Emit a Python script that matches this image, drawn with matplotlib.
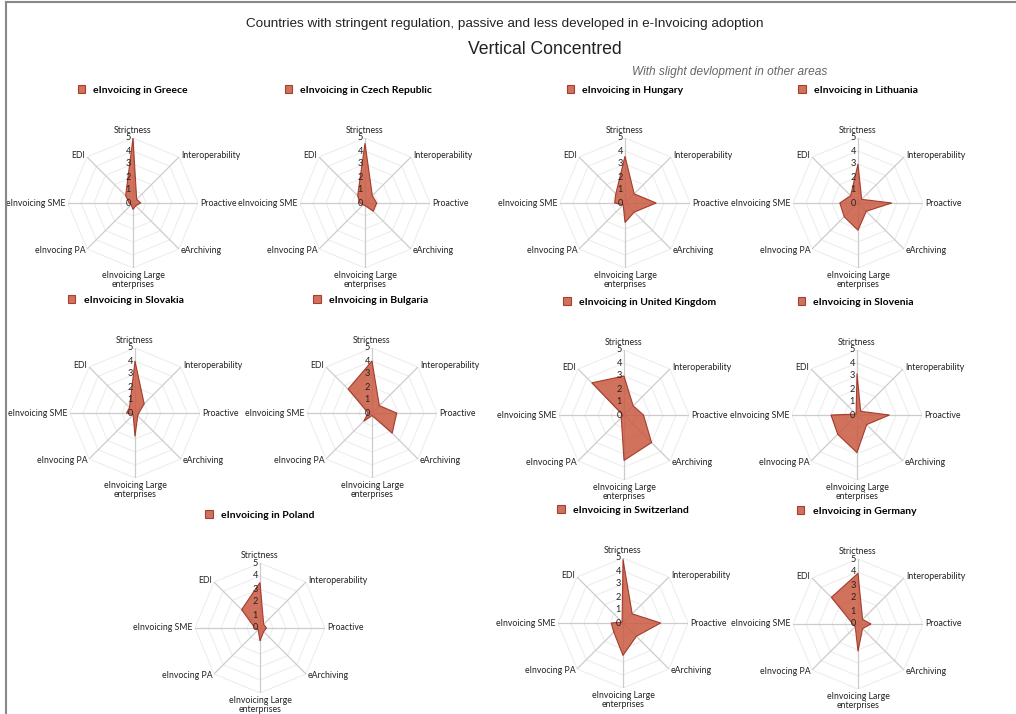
import numpy as np
import matplotlib.pyplot as plt
from matplotlib.lines import Line2D
from matplotlib import transforms

# axes of each radar, clockwise from the top
dimensions = ["Strictness", "Interoperability", "Proactive", "eArchiving",
              "eInvoicing Large\nenterprises", "eInvocing PA", "eInvoicing SME", "EDI"]

countries = ["Greece", "Czech Republic", "Hungary", "Lithuania",
             "Slovakia", "Bulgaria", "United Kingdom", "Slovenia",
             "Poland", "Switzerland", "Germany"]

greece = [5.0, 0.4, 0.6, 0.3, 0.5, 0.2, 0.3, 0.8]
czech = [4.6, 0.8, 0.9, 0.9, 0.2, 0.2, 0.4, 0.8]
hungary = [3.6, 1.0, 2.4, 1.0, 1.5, 0.2, 0.8, 1.0]
lithuania = [3.0, 0.4, 2.6, 0.9, 2.1, 1.5, 1.4, 0.8]
slovakia = [4.0, 1.0, 0.3, 0.3, 1.8, 0.2, 0.65, 0.6]
bulgaria = [4.0, 0.8, 1.9, 2.2, 0.2, 0.9, 0.3, 2.6]
uk = [3.0, 1.0, 1.5, 3.0, 3.5, 0.3, 0.1, 3.5]
slovenia = [3.2, 0.4, 2.5, 1.05, 2.9, 2.1, 2.0, 0.1]
poland = [3.5, 0.4, 0.5, 0.4, 1.0, 0.2, 0.4, 2.0]
switzerland = [4.9, 1.0, 2.9, 1.45, 2.5, 1.0, 0.9, 0.1]
germany = [3.9, 0.5, 1.0, 0.5, 2.1, 0.3, 0.4, 2.9]

scores = [greece, czech, hungary, lithuania, slovakia, bulgaria, uk, slovenia,
          poland, switzerland, germany]

# chart centres in pixels (top-left origin) and legend anchor (axes coords)
centres = [(133, 203), (365, 203), (625, 203), (858, 203),
           (135, 413), (372, 413), (624, 415), (857, 415),
           (260, 628), (623, 623), (858, 624)]
legend_x = [0.5, 0.45, 0.5, 0.5, 0.43, 0.49, 0.62, 0.49, 0.5, 0.5, 0.49]

W, H, R = 1016, 714, 65
fill_col = "#cb5e47"
edge_col = "#9c2e1e"

fig = plt.figure(figsize=(W / 100, H / 100), dpi=100)
fig.patch.set_facecolor("white")

fig.text(505 / W, 1 - 24 / H, "Countries with stringent regulation, passive and less developed in e-Invoicing adoption",
         ha="center", va="center", fontsize=9.7, family="Liberation Sans", color="#222222")
fig.text(545 / W, 1 - 50 / H, "Vertical Concentred", ha="center", va="center",
         fontsize=12.7, family="Liberation Sans", color="#222222")
fig.text(730 / W, 1 - 72 / H, "With slight devlopment in other areas", ha="center", va="center",
         fontsize=8.6, family="Liberation Sans", style="italic", color="#666666")

# screenshot border
fig.add_artist(Line2D([6 / W, 6 / W], [0, 1 - 2 / H], color="#888888", lw=1.5))
fig.add_artist(Line2D([6 / W, 1], [1 - 2 / H, 1 - 2 / H], color="#888888", lw=1.5))

angles = np.linspace(0, 2 * np.pi, len(dimensions), endpoint=False)
ring = np.append(angles, angles[0])

# label alignment per direction
aligns = [("center", "bottom"), ("left", "center"), ("left", "center"), ("left", "center"),
          ("center", "top"), ("right", "center"), ("right", "center"), ("right", "center")]

for name, vals, (cx, cy), lx in zip(countries, scores, centres, legend_x):
    ax = fig.add_axes([(cx - R) / W, (H - cy - R) / H, 2 * R / W, 2 * R / H], projection="polar")
    ax.set_theta_zero_location("N")
    ax.set_theta_direction(-1)
    ax.set_ylim(0, 5)
    ax.axis("off")

    for k in range(1, 6):
        ax.plot(ring, [k] * len(ring), color="#eeeeee", lw=0.8, zorder=1)
    for a in angles:
        ax.plot([a, a], [0, 5], color="#cccccc", lw=0.9, zorder=1)

    v = vals + vals[:1]
    ax.fill(ring, v, facecolor=fill_col, edgecolor=edge_col, lw=0.8, alpha=0.88, zorder=3,
            label=f"eInvoicing in {name}")

    for a, lab, (ha, va) in zip(angles, dimensions, aligns):
        ax.text(a, 5.2, lab, ha=ha, va=va, fontsize=6.3, family="Lato", color="#222222",
                linespacing=1.0)

    shift = transforms.offset_copy(ax.transData, fig=fig, x=-2, y=0, units="dots")
    for k in range(0, 6):
        ax.text(0, k, str(k), ha="right", va="center", fontsize=6.6, family="Lato",
                color="#222222", transform=shift, zorder=4)

    ax.legend(loc="center", bbox_to_anchor=(lx, 1.37), frameon=False,
              prop={"family": "Lato", "weight": "bold", "size": 7.5},
              handlelength=0.7, handleheight=0.7, handletextpad=0.8, borderaxespad=0)

fig.savefig("out.png", dpi=100, facecolor="white")
